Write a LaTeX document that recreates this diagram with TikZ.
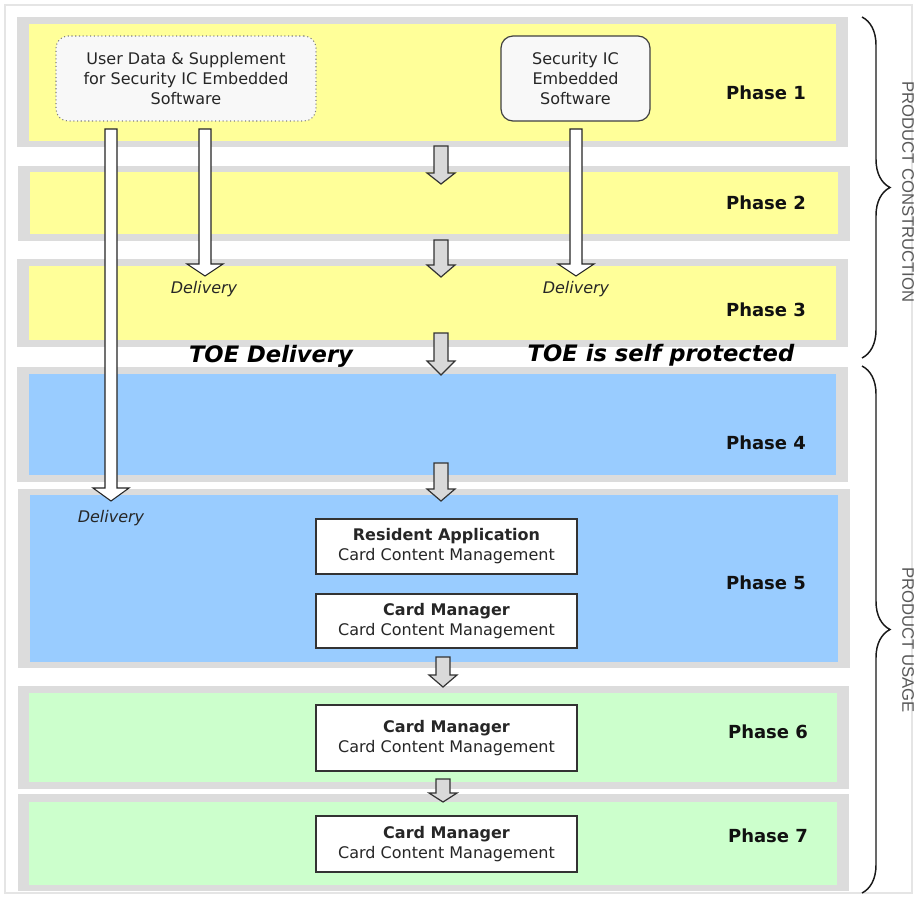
\documentclass[tikz,border=0pt]{standalone}
\usepackage{fontspec}
\setmainfont{DejaVu Sans}
\newfontfamily\labelfont{Liberation Sans}
\usetikzlibrary{decorations.pathreplacing}
\definecolor{bandgray}{HTML}{DCDCDC}
\definecolor{pyellow}{HTML}{FFFF99}
\definecolor{pblue}{HTML}{99CCFF}
\definecolor{pgreen}{HTML}{CCFFCC}
\definecolor{arrowgray}{HTML}{D9D9D9}
\definecolor{boxfill}{HTML}{F8F8F8}
\definecolor{txt}{HTML}{111111}
\newcommand\grayarrow[4]{% x, ytop, yhead, ytip
  \draw[garrow] (#1-7,#2) -- (#1+7,#2) -- (#1+7,#3) -- (#1+14,#3) -- (#1,#4) -- (#1-14,#3) -- (#1-7,#3) -- cycle;}
\newcommand\whitearrow[4]{% x, ytop, yhead, ytip
  \draw[warrow] (#1-6,#2) -- (#1+6,#2) -- (#1+6,#3) -- (#1+18,#3) -- (#1,#4) -- (#1-18,#3) -- (#1-6,#3) -- cycle;}
\tikzset{
  garrow/.style={fill=arrowgray, draw=black!80, line width=0.9pt, line join=miter},
  warrow/.style={fill=white, draw=black!85, line width=0.8pt, line join=miter},
  phaselabel/.style={font=\fontsize{13.5}{16}\selectfont\bfseries, text=txt},
  deliv/.style={font=\fontsize{12}{15}\selectfont\itshape, text=black!85},
  toe/.style={font=\fontsize{17}{20}\selectfont\bfseries\itshape, text=black},
  srcbox/.style={rounded corners=9pt, fill=boxfill, align=center, inner sep=0pt,
    font=\fontsize{12}{15}\selectfont, text=black!85},
  cardbox/.style={draw=black!80, line width=1pt, fill=white, align=center, inner sep=0pt,
    minimum width=195.75pt, font=\fontsize{12}{15}\selectfont, text=black!85},
  vlabel/.style={rotate=-90, font=\labelfont\fontsize{12.5}{14}\selectfont, text=black!65},
  bracestyle/.style={decorate, decoration={brace, amplitude=21pt, aspect=0.5}, line width=1.1pt, draw=black!90},
}
\begin{document}
\begin{tikzpicture}[x=0.75pt,y=-0.75pt]
\useasboundingbox (0,0) rectangle (917,897);
\fill[white] (0,0) rectangle (917,897);
\draw[black!10, line width=0.8pt] (5,5) rectangle (912,893);

% phase bands
\fill[bandgray] (17,17) rectangle (848,147);   \fill[pyellow] (29,24) rectangle (836,141);
\fill[bandgray] (18,166) rectangle (850,241);  \fill[pyellow] (30,172) rectangle (838,234);
\fill[bandgray] (17,259) rectangle (848,347);  \fill[pyellow] (29,266) rectangle (836,340);
\fill[bandgray] (17,367) rectangle (848,482);  \fill[pblue] (29,374) rectangle (836,475);
\fill[bandgray] (18,489) rectangle (850,668);  \fill[pblue] (30,495) rectangle (838,662);
\fill[bandgray] (18,686) rectangle (849,789);  \fill[pgreen] (29,693) rectangle (837,782);
\fill[bandgray] (18,794) rectangle (849,891);  \fill[pgreen] (29,802) rectangle (837,885);

% phase labels
\node[phaselabel] (ph1) at (766,93) {Phase 1};
\node[phaselabel] (ph2) at (766,203) {Phase 2};
\node[phaselabel] (ph3) at (766,310) {Phase 3};
\node[phaselabel] (ph4) at (766,443) {Phase 4};
\node[phaselabel] (ph5) at (766,583) {Phase 5};
\node[phaselabel] (ph6) at (768,732) {Phase 6};
\node[phaselabel] (ph7) at (768,836) {Phase 7};

% source boxes
\node[srcbox, draw=black!50, dotted, line width=0.8pt, minimum width=195pt, minimum height=63.75pt] (ud) at (186,78.5)
  {User Data \& Supplement\\for Security IC Embedded\\Software};
\node[srcbox, draw=black!75, line width=0.9pt, minimum width=111.75pt, minimum height=63.75pt] (sic) at (575.5,78.5)
  {Security IC\\Embedded\\Software};

% gray phase-to-phase arrows
\grayarrow{441}{146}{173}{184}
\grayarrow{441}{240}{265}{277}
\grayarrow{441}{333}{361}{375}
\grayarrow{441}{463}{489}{501}
\grayarrow{443}{657}{675}{687}
\grayarrow{443}{779}{793}{802}

% delivery arrows
\whitearrow{111}{129}{488}{501}
\whitearrow{205}{129}{264}{276}
\whitearrow{576}{129}{264}{276}

\node[deliv] (d1) at (204,289) {Delivery};
\node[deliv] (d2) at (576,289) {Delivery};
\node[deliv] (d3) at (111,518) {Delivery};

\node[toe] (toed) at (271,356) {TOE Delivery};
\node[toe] (toes) at (661,355) {TOE is self protected};

% card boxes
\node[cardbox, minimum height=41.25pt] (ra) at (446.5,546.5) {\textbf{Resident Application}\\Card Content Management};
\node[cardbox, minimum height=40.5pt] (cm5) at (446.5,621) {\textbf{Card Manager}\\Card Content Management};
\node[cardbox, minimum height=49.5pt] (cm6) at (446.5,738) {\textbf{Card Manager}\\Card Content Management};
\node[cardbox, minimum height=42pt] (cm7) at (446.5,844) {\textbf{Card Manager}\\Card Content Management};

% braces
\coordinate (b1t) at (862,17);
\coordinate (b1b) at (862,358);
\coordinate (b2t) at (862,366);
\coordinate (b2b) at (862,893);
\draw[bracestyle] (b1t) -- (b1b);
\draw[bracestyle] (b2t) -- (b2b);
\node[vlabel] (pc) at (908,192) {PRODUCT CONSTRUCTION};
\node[vlabel] (pu) at (908,640) {PRODUCT USAGE};
\end{tikzpicture}
\end{document}
